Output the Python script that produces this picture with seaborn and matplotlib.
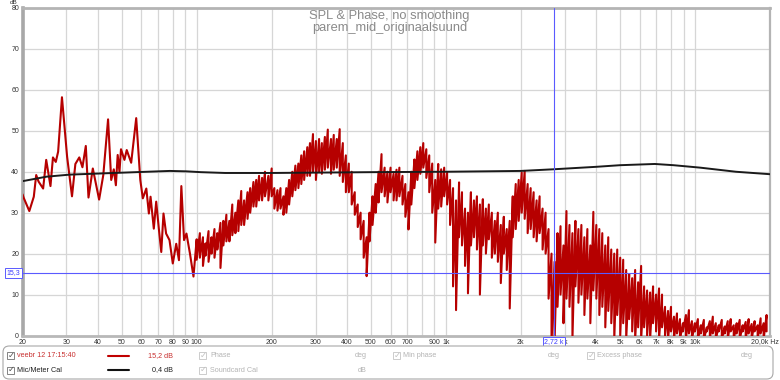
import numpy as np
import pandas as pd
import matplotlib
matplotlib.use("Agg")
import matplotlib.pyplot as plt
import seaborn as sns
from matplotlib.patches import FancyBboxPatch, Rectangle
from matplotlib.lines import Line2D
from matplotlib.transforms import blended_transform_factory
from matplotlib.ticker import NullLocator, FixedLocator

# ---------------- data ----------------
# SPL trace, low-frequency part (smooth)
lf_freq = [20.0, 20.2, 21.3, 22.2, 22.7, 23.2, 24.2, 24.9, 25.9, 26.5, 27.2, 27.8, 28.8,
           30.2, 31.6, 32.6, 33.8, 34.8, 35.9, 36.8, 38.3, 40.6, 42.2, 44.1, 45.4,
           46.5, 47.4, 48.2, 49.0, 49.7, 51.3, 52.4, 54.6, 57.2, 59.4, 60.8, 62.8,
           64.3, 65.3, 67.3, 68.8, 70.5, 72.1, 73.6, 75.4, 77.8, 80.2, 82.8, 84.9,
           86.8, 89.0, 91.0, 94.0, 97.1]
lf_db = [34.5, 33.7, 30.4, 33.9, 39.2, 37.6, 35.9, 42.9, 36.5, 43.5, 42.4, 44.9, 58.2,
         43.7, 34.0, 41.9, 43.5, 41.1, 46.3, 33.7, 40.8, 33.2, 39.2, 52.8, 38.0,
         40.6, 36.7, 44.1, 40.0, 45.5, 42.9, 45.3, 42.2, 53.1, 38.0, 33.5, 35.9,
         29.8, 33.9, 26.1, 32.7, 26.1, 20.4, 29.8, 24.9, 23.3, 17.6, 22.4, 18.4,
         36.5, 23.3, 24.9, 20.0, 14.4]

# SPL trace, dense part: per frequency bin the upper and lower value
hf_freq = [100, 103, 106, 108.5, 111.6, 114.7, 117.9, 121, 124.6, 128,
           131.6, 135.3, 139, 143, 147, 151, 155, 160, 164, 169,
           173.4, 178, 183, 188, 194, 200, 205, 211, 217, 223,
           229, 235, 242, 249, 256, 263, 270, 278, 285, 293,
           301, 310, 318, 327, 336, 346, 355, 365, 375, 386,
           397, 408, 419, 431, 443, 455, 468, 481, 494, 508,
           523, 537, 552, 568, 583, 600, 617, 634, 651, 670,
           688, 708, 727, 748, 769, 790, 812, 835, 858, 882,
           907, 932, 958, 985, 1012, 1040, 1069, 1099, 1130, 1161,
           1194, 1227, 1261, 1297, 1333, 1370, 1408, 1448, 1488, 1530,
           1573, 1617, 1662, 1709, 1756, 1805, 1856, 1908, 1961, 2016,
           2072, 2130, 2190, 2251, 2314, 2379, 2445, 2514, 2584, 2656,
           2731, 2807, 2886, 2966, 3049, 3135, 3222, 3312, 3405, 3500,
           3598, 3699, 3802, 3909, 4018, 4131, 4246, 4365, 4487, 4613,
           4742, 4875, 5011, 5151, 5295, 5443, 5596, 5752, 5913, 6079,
           6249, 6424, 6604, 6788, 6978, 7174, 7374, 7581, 7793, 8011,
           8235, 8466, 8703, 8946, 9196, 9454, 9718, 9990, 10270, 10557,
           10853, 11157, 11469, 11790, 12120, 12460, 12808, 13167, 13536, 13915,
           14304, 14705, 15116, 15540, 15975, 16422, 16882, 17354, 17840, 18340, 18853, 19381]
hf_upper = [23.5, 25, 24, 22.5, 25.5, 24, 26, 25, 27.5, 28,
            29.5, 28, 32, 30, 33, 35.3, 33, 35, 36, 37.5,
            38, 39, 38.5, 40, 39, 40.8, 36, 35.5, 36, 34,
            36, 38, 40, 41.5, 42, 44, 45, 46, 47, 49.2,
            47.5, 48, 47, 48.5, 50.3, 48, 49, 48, 50.4, 47,
            44, 42, 40, 35, 32, 30, 28, 24, 30, 34,
            37, 40, 44.3, 41, 40, 41, 39.5, 40.5, 41, 39,
            37, 35, 40, 43, 45, 46, 47, 45.5, 44, 42,
            38, 41.9, 40.6, 41, 39.8, 38, 36, 33, 37.4, 35,
            31, 30, 35, 33, 34, 32, 33.3, 31, 32, 30,
            28, 30, 27, 29, 26, 28, 34, 37, 38, 39.8,
            40.2, 37, 36, 35, 33, 34, 31, 30, 26, 20,
            18, 25, 26.7, 22, 30.4, 27, 25, 28, 26, 27,
            24, 26, 22, 30.2, 27, 26, 25, 22, 24, 21,
            20, 21, 19, 18.5, 16, 15, 14, 16, 13, 17,
            12, 11, 10.5, 12, 10, 11.5, 10, 7, 6, 7,
            4.6, 5.4, 4, 3, 5, 6.2, 3.5, 3, 4, 2.5,
            3.8, 2, 3.5, 4.6, 3, 2.5, 3.8, 2.2, 3.5, 4,
            2.5, 3, 3.8, 2.5, 3.3, 4, 2.8, 3.5, 2.5, 4.2, 3, 5]
hf_lower = [18.5, 19, 17, 19.5, 18, 20, 19, 21, 16.5, 22,
            23, 23, 24.5, 25, 25.5, 27, 27, 28.5, 30, 31.5,
            31.5, 33, 33, 34, 33, 34, 31, 30.5, 31, 29.5,
            30, 32, 34, 35.5, 36, 37, 38, 39, 39, 40,
            38, 40, 39.5, 40.5, 41, 39.5, 40.5, 41, 39, 37.5,
            35, 35, 32, 29.5, 26.5, 23.5, 19, 14.5, 23, 27,
            30, 32.5, 35, 34, 32.5, 35, 33, 33, 34, 32,
            29, 25.9, 32, 36, 38, 39.5, 41, 38.5, 35, 30,
            22.7, 31, 31.5, 34, 32, 27, 12, 6.2, 24, 22,
            17, 10.3, 22, 24, 21, 10, 22, 20, 23.5, 19,
            20, 18, 12.8, 20, 16, 6.6, 24, 26, 28, 30,
            28.5, 25, 26, 24, 23, 25, 21, 20, 9, -2,
            -2, 7, 10, 3, 9, 7, -1, 12, 8, 10,
            5, 9, 3, 11, 9, 5, 7, 2, 6, 3,
            -1, 5, 0, 3, -1, 4, 1, -1, 2, -1,
            2, 0, -1, 3, 1, -1, 2, 0, -1, 1,
            -1, 0.5, -1, 1, -1, 0.5, -1, 1, -1, 0.5,
            -1, 1, -1, 0.5, -1, 1, -1, 0.5, -1, 1,
            -1, 0.5, -1, 1, -1, 0.5, -1, 1, -1, 0.5, -1, 1]

# Mic/Meter calibration curve
cal_freq = [20, 25, 31, 42, 57, 78, 91, 104, 130, 200, 500, 1000, 2000, 2700,
            4000, 5000, 6900, 8200, 10500, 14600, 20000]
cal_db = [37.7, 38.8, 39.3, 39.6, 39.9, 40.2, 40.1, 39.9, 39.7, 39.7, 39.9, 40.0,
          40.2, 40.6, 41.2, 41.6, 41.9, 41.6, 41.0, 40.0, 39.4]

x_ticks = [20, 30, 40, 50, 60, 70, 80, 90, 100, 200, 300, 400, 500, 600, 700, 800,
           900, 1000, 2000, 3000, 4000, 5000, 6000, 7000, 8000, 9000, 10000, 20000]
x_tick_labels = ["20", "30", "40", "50", "60", "70", "80", "90", "100", "200", "300",
                 "400", "500", "600", "700", "", "900", "1k", "2k", "3k", "4k", "5k",
                 "6k", "7k", "8k", "9k", "10k", ""]
y_ticks = [0, 10, 20, 30, 40, 50, 60, 70, 80]

cursor_db = 15.3
cursor_freq = 2720
title_1 = "SPL & Phase, no smoothing"
title_2 = "parem_mid_originaalsuund"

# ---------------- figure ----------------
sns.set_theme(style="white")
plt.rcParams['font.family'] = ['Liberation Sans', 'DejaVu Sans']

W, H = 780, 380
fig = plt.figure(figsize=(W / 100, H / 100), dpi=100)
fig.patch.set_facecolor("white")


def fx(x):
    return x / W


def fy(y):
    return 1 - y / H


ax = fig.add_axes([fx(22.5), fy(335.5), (770 - 22.5) / W, (335.5 - 8) / H])
ax.set_facecolor("white")
ax.set_xscale("log")
ax.set_xlim(20, 20000)
ax.set_ylim(0, 80)
ax.xaxis.set_major_locator(FixedLocator(x_ticks))
ax.xaxis.set_minor_locator(NullLocator())
ax.set_xticklabels(x_tick_labels)
ax.set_yticks(y_ticks)
ax.set_yticklabels([str(v) for v in y_ticks])
ax.grid(True, which="major", color="#d6d6d6", lw=0.9)
ax.set_axisbelow(True)
ax.tick_params(axis="both", length=0, labelsize=5, labelcolor="#333333", pad=2.5)

spl = pd.DataFrame({
    "freq": np.concatenate([lf_freq, np.repeat(hf_freq, 2)]),
    "spl": np.concatenate([lf_db, np.column_stack([hf_upper, hf_lower]).ravel()]),
})
cal = pd.DataFrame({"freq": cal_freq, "spl": cal_db})

sns.lineplot(data=spl, x="freq", y="spl", estimator=None, sort=False,
             color="#b60000", lw=1.5, ax=ax, zorder=3)
sns.lineplot(data=cal, x="freq", y="spl", estimator=None, sort=False,
             color="#1a1a1a", lw=1.4, ax=ax, zorder=4)
ax.set_xlabel("")
ax.set_ylabel("")

ax.axhline(cursor_db, color="#5a5aff", lw=0.8, zorder=5)
ax.axvline(cursor_freq, color="#5a5aff", lw=0.8, zorder=5)

for side, lw, col in [("left", 2.6, "#a8a8a8"), ("top", 2.0, "#b4b4b4"),
                      ("right", 1.6, "#b4b4b4"), ("bottom", 2.0, "#b8b8b8")]:
    ax.spines[side].set_visible(True)
    ax.spines[side].set_color(col)
    ax.spines[side].set_linewidth(lw)

# cursor labels
tr_y = blended_transform_factory(fig.transFigure, ax.transData)
ax.text(fx(13.5), cursor_db, "15,3", transform=tr_y, ha="center", va="center",
        fontsize=5, color="#3a3aff", clip_on=False, zorder=10,
        bbox=dict(boxstyle="square,pad=0.2", fc="white", ec="#5a5aff", lw=0.7))
tr_x = blended_transform_factory(ax.transData, fig.transFigure)
ax.text(cursor_freq, fy(342), "2,72 k", transform=tr_x, ha="center", va="center",
        fontsize=5, color="#3a3aff", clip_on=False, zorder=10,
        bbox=dict(boxstyle="square,pad=0.2", fc="white", ec="#5a5aff", lw=0.7))

fig.text(fx(779), fy(342), "20,0k Hz", ha="right", va="center", fontsize=5, color="#333333")
fig.text(fx(14), fy(2.6), "dB", ha="center", va="center", fontsize=4.6, color="#333333")

fig.text(fx(389), fy(15.5), title_1, ha="center", va="center", fontsize=9.3, color="#8a8a8a")
fig.text(fx(390), fy(27.5), title_2, ha="center", va="center", fontsize=9.3, color="#8a8a8a")

# ---------------- legend panel ----------------
panel = FancyBboxPatch((fx(3), fy(379)), (773 - 3) / W, (379 - 346) / H,
                       boxstyle="round,pad=0,rounding_size=0.008", mutation_aspect=W / H,
                       fc="white", ec="#a8a8a8", lw=0.8, transform=fig.transFigure)
fig.add_artist(panel)


def checkbox(x, y, enabled=True):
    ec = "#707070" if enabled else "#c4c4c4"
    fig.add_artist(Rectangle((fx(x), fy(y + 3.5)), 7 / W, 7 / H, fc="white", ec=ec,
                             lw=0.6, transform=fig.transFigure))
    fig.text(fx(x + 3.8), fy(y - 0.3), "\u2713", ha="center", va="center", fontsize=6,
             color="#505050" if enabled else "#c0c0c0", family=["DejaVu Sans"])


r1, r2 = 355.5, 370
gray = "#b4b4b4"
fs = 5.2
checkbox(7, r1)
fig.text(fx(17), fy(r1), "veebr 12 17:15:40", ha="left", va="center", fontsize=fs, color="#c83030")
fig.add_artist(Line2D([fx(108), fx(129)], [fy(r1), fy(r1)], color="#c00000", lw=1.5))
fig.text(fx(173), fy(r1), "15,2 dB", ha="right", va="center", fontsize=fs, color="#c83030")
checkbox(199, r1, False)
fig.text(fx(210), fy(r1), "Phase", ha="left", va="center", fontsize=fs, color=gray)
fig.text(fx(361), fy(r1), "deg", ha="center", va="center", fontsize=fs, color=gray)
checkbox(393, r1, False)
fig.text(fx(403), fy(r1), "Min phase", ha="left", va="center", fontsize=fs, color=gray)
fig.text(fx(554), fy(r1), "deg", ha="center", va="center", fontsize=fs, color=gray)
checkbox(587, r1, False)
fig.text(fx(597), fy(r1), "Excess phase", ha="left", va="center", fontsize=fs, color=gray)
fig.text(fx(747), fy(r1), "deg", ha="center", va="center", fontsize=fs, color=gray)

checkbox(7, r2)
fig.text(fx(17), fy(r2), "Mic/Meter Cal", ha="left", va="center", fontsize=fs, color="#202020")
fig.add_artist(Line2D([fx(108), fx(129)], [fy(r2), fy(r2)], color="#111111", lw=1.5))
fig.text(fx(173), fy(r2), "0,4 dB", ha="right", va="center", fontsize=fs, color="#202020")
checkbox(199, r2, False)
fig.text(fx(210), fy(r2), "Soundcard Cal", ha="left", va="center", fontsize=fs, color=gray)
fig.text(fx(362), fy(r2), "dB", ha="center", va="center", fontsize=fs, color=gray)

fig.savefig("out.png", dpi=100, facecolor="white")
